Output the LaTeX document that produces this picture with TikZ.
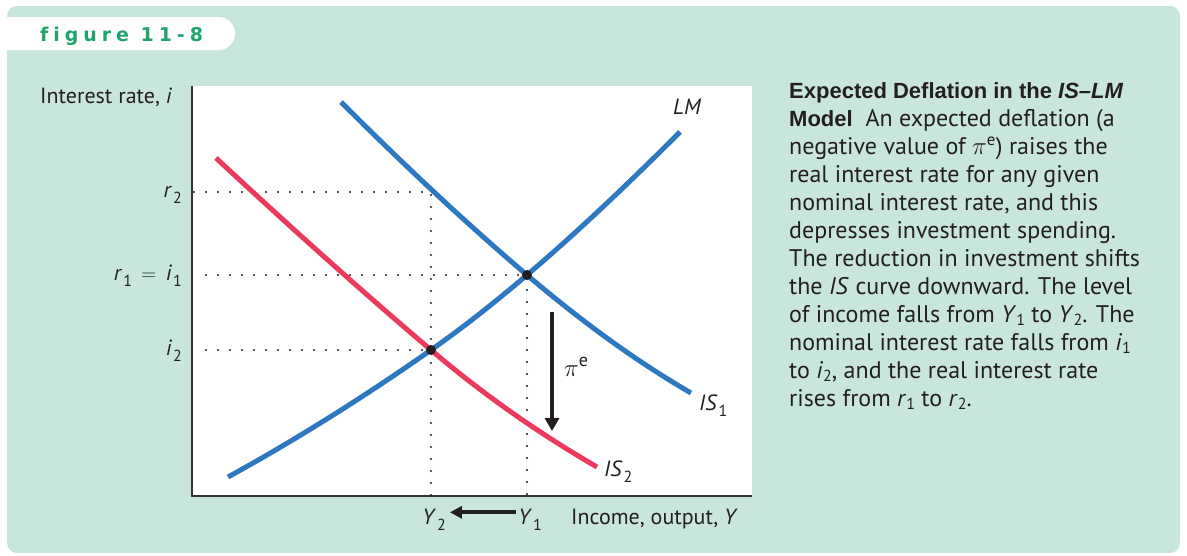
\documentclass[tikz,border=0pt]{standalone}
\usepackage{fontspec}
\setmainfont{PT Sans}
\newfontfamily\headfont{Liberation Sans}
\newfontfamily\tabfont[LetterSpace=26,Ligatures={NoCommon}]{DejaVu Sans}
\usetikzlibrary{arrows.meta,calc}
\definecolor{bg}{HTML}{C9E6DC}
\definecolor{tabgreen}{HTML}{1FA56C}
\definecolor{curveblue}{HTML}{2E78C2}
\definecolor{curvered}{HTML}{EB3A5E}
\definecolor{axisgray}{HTML}{333333}
\definecolor{ink}{HTML}{231F20}
\newcommand{\lsub}[1]{\hspace{1pt}\raisebox{-0.55ex}{\fontsize{16}{16}\selectfont #1}}
\newcommand{\csub}[1]{\raisebox{-0.3ex}{\fontsize{16}{16}\selectfont #1}}
\tikzset{
  lbl/.style={inner sep=0pt, text=ink, font=\fontsize{22}{24}\selectfont},
  bluecurve/.style={curveblue, line width=5pt},
  redcurve/.style={curvered, line width=5pt},
  guide/.style={ink, line width=2.4pt, line cap=round, dash pattern=on 0pt off 12pt},
  axisline/.style={axisgray, line width=1.6pt},
  eqdot/.style={circle, fill=ink, inner sep=0pt, minimum size=10pt},
  bigarrow/.style={ink, line width=4.5pt, -{Triangle[length=13pt,width=14pt]}},
  midarrow/.style={ink, line width=3.8pt, -{Triangle[length=12pt,width=12pt]}}
}
\begin{document}
\begin{tikzpicture}[x=1pt,y=-1pt]
\useasboundingbox (0,0) rectangle (1187,555);
% background
\fill[bg, rounded corners=10pt] (7,6) rectangle (1180,553);
% tab
\fill[white] (7,17) -- (218.5,17) arc(-90:90:16.5) -- (7,50) -- cycle;
\node[inner sep=0pt, anchor=base west, text=tabgreen, font=\tabfont\bfseries\fontsize{19}{20}\selectfont] (tab) at (40,41) {figure 11-8};
% plot area
\fill[white] (192,86) rectangle (752,496);
\coordinate (O) at (192,496);
\coordinate (Ytop) at (192,86);
\coordinate (Xend) at (752,496);
\draw[axisline] (Ytop) -- (O) -- (Xend);
% equilibrium points
\coordinate (E1) at (527,275);
\coordinate (E2) at (431,350);
\coordinate (R2) at (431,192);
% guides
\draw[guide] (194,192) -- (R2) -- (431,496);
\draw[guide] (206,275) -- (E1) -- (527,496);
\draw[guide] (206,350) -- (E2);
% curves
\draw[redcurve] (216,158) .. controls (287.7,224.7) and (359.3,289.1) .. (E2)
                .. controls (486.3,397) and (541.7,434.9) .. (597,467);
\draw[bluecurve] (341,102) .. controls (403,164) and (465,222.3) .. (E1)
                 .. controls (581.7,321.5) and (636.3,361.3) .. (691,393);
\draw[bluecurve] (228,477) .. controls (295.7,439.8) and (363.3,397.4) .. (E2)
                 .. controls (463,327.6) and (495,302.2) .. (E1)
                 .. controls (578,231.6) and (629,183) .. (680,132);
\node[eqdot] (d1) at (E1) {};
\node[eqdot] (d2) at (E2) {};
% pi arrow
\coordinate (Ptop) at (552,312);
\coordinate (Pbot) at (552,431);
\draw[bigarrow] (Ptop) -- (Pbot);
\node[lbl, anchor=base west, font=\fontsize{26}{28}\selectfont] (pie) at (564,376) {$\pi^{\mathrm{e}}$};
% curve labels
\node[lbl, anchor=base west] (LM) at (673,114) {\textit{LM}};
\node[lbl, anchor=base west] (IS1) at (699,410) {\textit{IS}\lsub{1}};
\node[lbl, anchor=base west] (IS2) at (604,476) {\textit{IS}\lsub{2}};
% axis labels
\node[lbl, anchor=base west] (ylab) at (40,103) {Interest rate, \textit{i}};
\node[lbl, anchor=base east] (r2) at (182,197) {\textit{r}\lsub{2}};
\node[lbl, anchor=base east] (r1) at (182,280) {\textit{r}\lsub{1}\,${}={}$\,\textit{i}\lsub{1}};
\node[lbl, anchor=base east] (i2) at (182,355) {\textit{i}\lsub{2}};
\node[lbl, anchor=base] (Y2) at (434,524) {\textit{Y}\lsub{2}};
\node[lbl, anchor=base] (Y1) at (530,524) {\textit{Y}\lsub{1}};
\node[lbl, anchor=base west] (xlab) at (571,524) {Income, output, \textit{Y}};
\draw[midarrow] ($(Y1.west)+(-2,-7)$) -- ($(Y2.east)+(4,-7)$);
% caption
\node[inner sep=0pt, anchor=north west, align=left, text=ink,
      font=\fontsize{24}{28}\selectfont] (cap) at (789,82)
{{\headfont\bfseries\fontsize{22}{28}\selectfont Expected Deflation in the \textit{IS–LM}}\\
{\headfont\bfseries\fontsize{22}{28}\selectfont Model}\ \ An expected deflation (a\\
negative value of $\pi^{\mathrm{e}}$) raises the\\
real interest rate for any given\\
nominal interest rate, and this\\
depresses investment spending.\\
The reduction in investment shifts\\
the \textit{IS} curve downward. The level\\
of income falls from \textit{Y}\csub{1} to \textit{Y}\csub{2}. The\\
nominal interest rate falls from \textit{i}\csub{1}\\
to \textit{i}\csub{2}, and the real interest rate\\
rises from \textit{r}\csub{1} to \textit{r}\csub{2}.};
\end{tikzpicture}
\end{document}
